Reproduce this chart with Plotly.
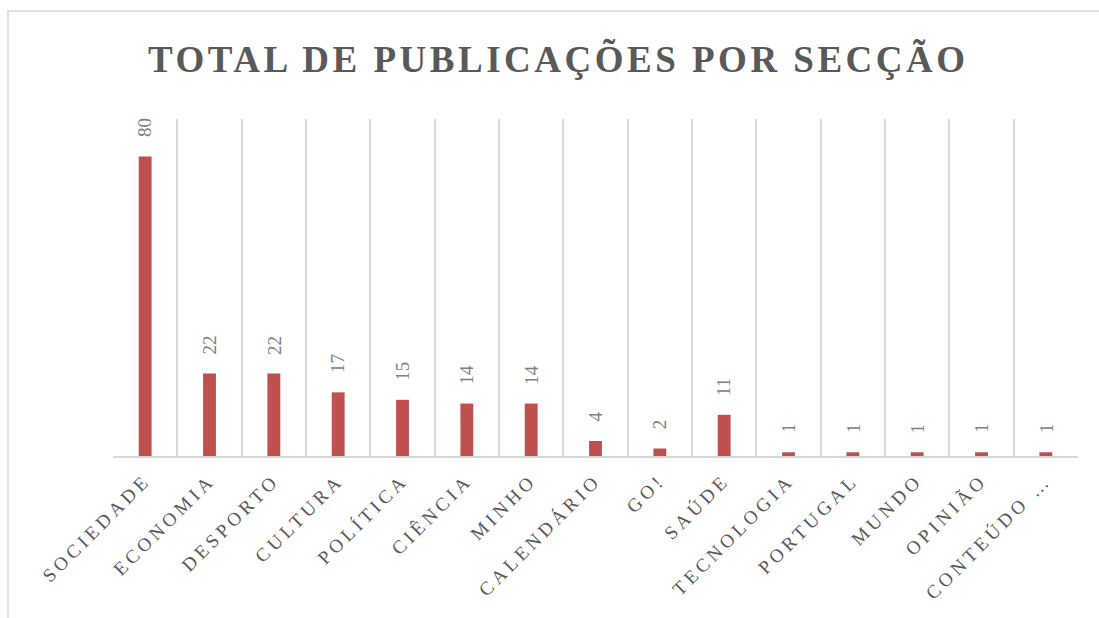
import plotly.graph_objects as go

SECTIONS = [
    "SOCIEDADE", "ECONOMIA", "DESPORTO", "CULTURA", "POLÍTICA", "CIÊNCIA",
    "MINHO", "CALENDÁRIO", "GO!", "SAÚDE", "TECNOLOGIA", "PORTUGAL",
    "MUNDO", "OPINIÃO", "CONTEÚDO …",
]
POSTS = [80, 22, 22, 17, 15, 14, 14, 4, 2, 11, 1, 1, 1, 1, 1]

TITLE = "TOTAL DE PUBLICAÇÕES POR SECÇÃO"

W, H = 1099, 618
ML, MR, MT, MB = 113, 21, 119, 162
BAR = "#C0504D"
GRID = "#D9D9D9"
TEXT = "#595959"
LABEL = "#808080"
SERIF = "Liberation Serif, Times New Roman, serif"

fig = go.Figure(
    go.Bar(
        x=SECTIONS,
        y=POSTS,
        marker={"color": BAR, "line": {"width": 0}},
        hoverinfo="x+y",
    )
)

# vertical value labels above each bar
for name, val in zip(SECTIONS, POSTS):
    fig.add_annotation(
        x=name, y=val, text=str(val), textangle=-90, showarrow=False,
        yanchor="bottom", yshift=17,
        font={"family": SERIF, "size": 19, "color": LABEL},
    )

# light chart-area border (starts at top-left, runs past the page edges)
pw, ph = W - ML - MR, H - MT - MB
fig.add_shape(
    type="rect", xref="paper", yref="paper", layer="below",
    x0=(8 - ML) / pw, x1=(W + 20 - ML) / pw,
    y0=-(MB + 20) / ph, y1=(H - MB - 11) / ph,
    line={"color": GRID, "width": 1.5}, fillcolor="rgba(0,0,0,0)",
)

fig.update_layout(
    width=W, height=H,
    margin={"l": ML, "r": MR, "t": MT, "b": MB},
    paper_bgcolor="white", plot_bgcolor="white",
    bargap=0.8,
    showlegend=False,
    title={
        "text": f"<b>{TITLE}</b>", "x": 0.508, "xanchor": "center",
        "y": 1 - 59 / H, "yanchor": "middle",
        "font": {"family": SERIF, "size": 37, "color": TEXT},
    },
    font={"family": SERIF, "color": TEXT},
)
fig.update_xaxes(
    type="category", tickson="boundaries", showgrid=True, gridcolor=GRID, gridwidth=1.5,
    showline=True, linecolor=GRID, linewidth=1.5, ticks="", tickangle=-45,
    ticklabelstandoff=4,
    tickfont={"family": SERIF, "size": 19, "color": TEXT},
)
fig.update_yaxes(range=[0, 90], visible=False, showgrid=False)

page_tweaks = """
document.body.style.margin='0';
document.querySelectorAll('.xtick text').forEach(function(t){t.style.letterSpacing='4px';});
document.querySelectorAll('.gtitle').forEach(function(t){t.style.letterSpacing='3.5px';});
"""

fig.write_html("out.html", post_script=page_tweaks, config={"displayModeBar": False})
